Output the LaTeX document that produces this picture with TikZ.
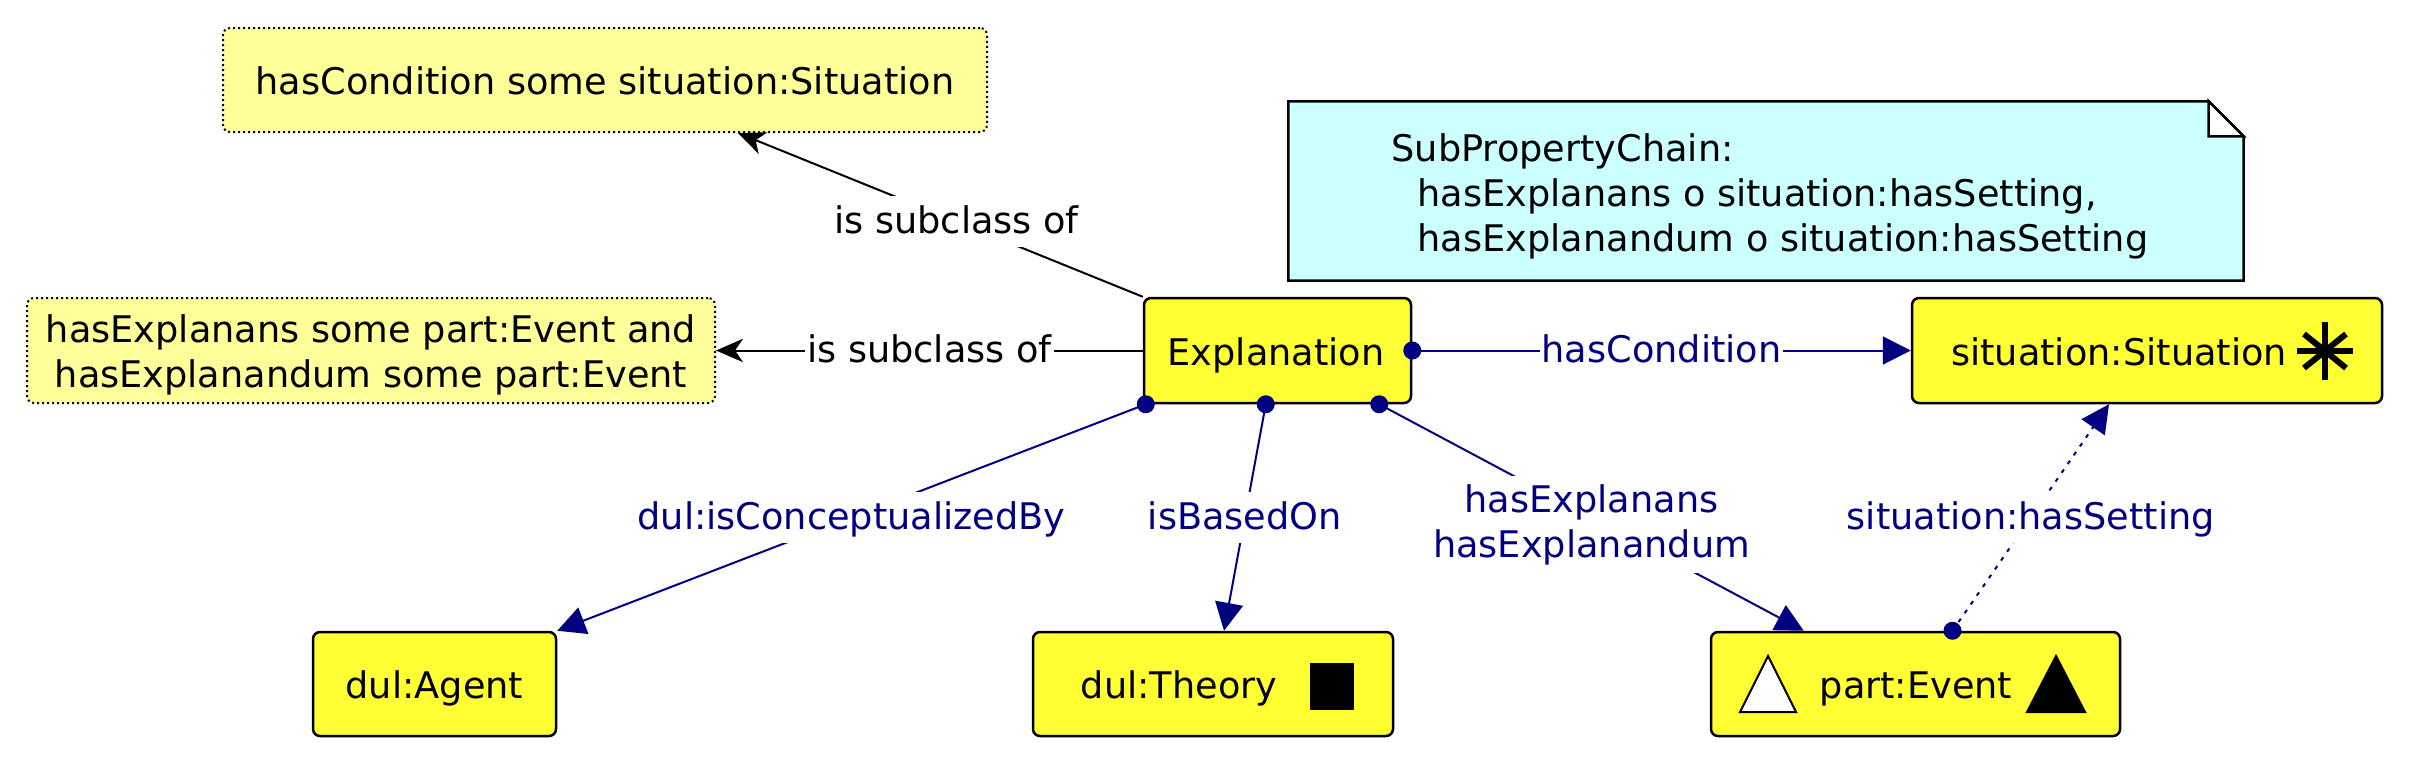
\documentclass[tikz,border=0pt]{standalone}
\usepackage{fontspec}
\setmainfont{DejaVu Sans}
\usetikzlibrary{arrows.meta,calc}
\definecolor{boxyellow}{RGB}{255,255,51}
\definecolor{noteyellow}{RGB}{255,255,153}
\definecolor{notecyan}{RGB}{204,255,255}
\definecolor{navyblue}{RGB}{0,0,128}
\begin{document}
\begin{tikzpicture}[x=0.3pt,y=-0.3pt,
  every node/.style={font=\fontsize{11pt}{13.5pt}\selectfont},
  classbox/.style={draw=black,line width=0.75pt,fill=boxyellow,rounded corners=2.1pt,inner sep=0pt},
  notebox/.style={draw=black,line width=0.6pt,dash pattern=on 0.6pt off 0.9pt,fill=noteyellow,rounded corners=2.1pt,inner sep=0pt},
  txt/.style={inner sep=0pt,anchor=base},
  objedge/.style={draw=navyblue,line width=0.6pt,-{Triangle[length=8.4pt,width=8.4pt]}},
  subedge/.style={draw=black,line width=0.6pt,-{Stealth[length=8.1pt,width=7pt,inset=2.4pt]}},
  elabel/.style={fill=white,inner xsep=0.6pt,inner ysep=2.5pt,text height=0.86em,text depth=0.16em},
  objlabel/.style={elabel,text=navyblue},
  objlabeltwo/.style={fill=white,inner xsep=0.6pt,inner ysep=2.5pt,text=navyblue,align=center,yshift=-2.1pt},
  srcdot/.style={fill=navyblue},
]
\useasboundingbox (0,0) rectangle (2424,762);
\fill[white] (0,0) rectangle (2424,762);

% notes
\node[notebox,minimum width=229.2pt,minimum height=31.2pt] (note1) at (605,80) {};
\node[notebox,minimum width=206.4pt,minimum height=31.5pt] (note2) at (371,350.5) {};
\node[minimum width=286.2pt,minimum height=53.4pt,inner sep=0pt] (chainnote) at (1766,191) {};
\draw[line width=0.75pt,fill=notecyan] (chainnote.north west) -- ($(chainnote.north east)+(-35,0)$) -- ($(chainnote.north east)+(0,35)$) -- (chainnote.south east) -- (chainnote.south west) -- cycle;
\draw[line width=0.75pt,fill=white] ($(chainnote.north east)+(-35,0)$) -- ($(chainnote.north east)+(-35,35)$) -- ($(chainnote.north east)+(0,35)$) -- cycle;

% class boxes
\node[classbox,minimum width=80.1pt,minimum height=31.5pt] (expl) at (1277.5,350.5) {};
\node[classbox,minimum width=141pt,minimum height=31.5pt] (sit) at (2147,350.5) {};
\node[classbox,minimum width=72.9pt,minimum height=31.2pt] (agent) at (434.5,684) {};
\node[classbox,minimum width=108pt,minimum height=31.2pt] (theory) at (1213,684) {};
\node[classbox,minimum width=122.7pt,minimum height=31.2pt] (event) at (1915.5,684) {};

% icons
\fill[black] (1310,663) rectangle (1354,710);
\draw[line width=0.6pt,fill=white,line join=miter] (1740,712) -- (1768,656) -- (1796,712) -- cycle;
\draw[line width=0.6pt,fill=black,line join=miter] (2027,712) -- (2056,656) -- (2085,712) -- cycle;
\begin{scope}[line width=1.8pt,shift={(2325,351)}]
  \draw (-28,0) -- (28,0);
  \draw (0,-29) -- (0,29);
  \draw (-21,-17) -- (21,17);
  \draw (-21,17) -- (21,-17);
\end{scope}

% texts
\node[txt] (explt) at (1276,365) {Explanation};
\node[txt] (sitt) at (2119,365) {situation:Situation};
\node[txt] (agentt) at (434.5,698) {dul:Agent};
\node[txt] (theoryt) at (1179,698) {dul:Theory};
\node[txt] (eventt) at (1916,698) {part:Event};
\node[txt] (note1t) at (605,94) {hasCondition some situation:Situation};
\node[inner sep=0pt,align=center] (note2t) at (371,355) {hasExplanans some part:Event and\\hasExplanandum some part:Event};
\node[inner sep=0pt,align=left,anchor=north west] (chaint) at (1391,133) {SubPropertyChain:\\\hspace*{7.8pt}hasExplanans o situation:hasSetting,\\\hspace*{7.8pt}hasExplanandum o situation:hasSetting};

% connector end points
\coordinate (sA) at ($(expl.south west)+(3,0)$);
\coordinate (sB) at ($(expl.south west)+(123,0)$);
\coordinate (sC) at ($(expl.south east)+(-33,0)$);
\coordinate (sD) at ($(event.north)+(37,0)$);
\coordinate (tB) at ($(theory.north)+(11,0)$);
\coordinate (tC) at ($(event.north west)+(94,0)$);
\coordinate (tD) at ($(sit.south)+(-38,0)$);
\coordinate (tS) at ($(note1.south)+(133,0)$);

% subclass edges
\draw[subedge] (expl.north west) -- node[elabel,pos=0.46] (lsub1) {is subclass of} (tS);
\draw[subedge] (expl.west) -- node[elabel] (lsub2) {is subclass of} (note2.east);

% object property edges
\draw[objedge] (expl.east) -- node[objlabel] (lcond) {hasCondition} (sit.west);
\draw[objedge] (sA) -- node[objlabel] (lconc) {dul:isConceptualizedBy} (agent.north east);
\draw[objedge] (sB) -- node[objlabel] (lbased) {isBasedOn} (tB);
\draw[objedge] (sC) -- node[objlabeltwo] (lexp) {hasExplanans\\hasExplanandum} (tC);
\draw[objedge,dash pattern=on 1.2pt off 2pt] (sD) -- node[objlabel] (lset) {situation:hasSetting} (tD);

% source dots
\fill[srcdot] (expl.east) circle[radius=2.7pt];
\fill[srcdot] (sA) circle[radius=2.7pt];
\fill[srcdot] (sB) circle[radius=2.7pt];
\fill[srcdot] (sC) circle[radius=2.7pt];
\fill[srcdot] (sD) circle[radius=2.7pt];
\end{tikzpicture}
\end{document}
